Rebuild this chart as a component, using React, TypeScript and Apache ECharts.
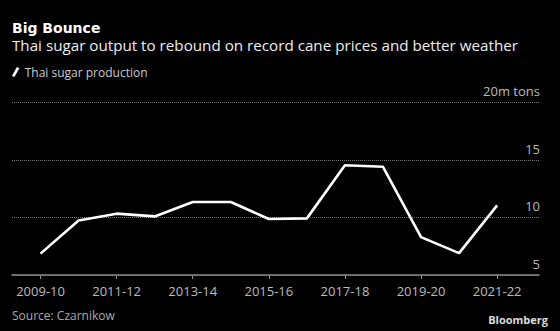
import React, { useEffect, useRef } from "react";
import * as echarts from "echarts";

const seasons = [
  "2009-10", "2010-11", "2011-12", "2012-13", "2013-14", "2014-15", "2015-16",
  "2016-17", "2017-18", "2018-19", "2019-20", "2020-21", "2021-22",
];
const production = [6.86, 9.75, 10.34, 10.1, 11.36, 11.36, 9.87, 9.93, 14.56, 14.42, 8.3, 6.9, 11.06];
const labelledTicks = [0, 2, 4, 6, 8, 10, 12];
const yTicks = [5, 10, 15, 20];

const FONT = "'Open Sans', 'DejaVu Sans', sans-serif";

export default function App() {
  const ref = useRef<HTMLDivElement>(null);
  useEffect(() => {
    if (!ref.current) return;
    const chart = echarts.init(ref.current, undefined, { renderer: "svg" });
    chart.setOption({
      animation: false,
      backgroundColor: "#000",
      title: [
        { text: "Thai sugar output to rebound on record cane prices and better weather", left: 12, top: 37, padding: 0,
          textStyle: { color: "#eee", fontSize: 15.2, fontWeight: "normal", fontFamily: FONT } },
        { text: "Source: Czarnikow", left: 12, top: 309, padding: 0,
          textStyle: { color: "#aaa", fontSize: 12, fontWeight: "normal", fontFamily: FONT } },
        { text: "Bloomberg", right: 12, top: 314, padding: 0,
          textStyle: { color: "#ddd", fontSize: 11, fontWeight: "bold", fontFamily: FONT } },
      ],
      graphic: [
        {
          type: "text", x: 12, y: 28,
          style: {
            text: "Big Bounce", fill: "#fff",
            font: "bold 14px 'DejaVu Sans', Verdana, sans-serif",
            verticalAlign: "middle", align: "left",
          },
        },
      ],
      legend: {
        left: 12, top: 66, padding: 0, itemWidth: 8, itemHeight: 10, itemGap: 10,
        data: [{ name: "Thai sugar production", icon: "path://M0,9 L5,0 L7.5,1.2 L2.5,10.2 Z" }],
        textStyle: { color: "#ccc", fontSize: 12, fontFamily: FONT },
      },
      grid: { left: 12, right: 21, top: 102.7, bottom: 56, containLabel: false },
      xAxis: {
        type: "value", min: -0.75, max: 13.1,
        axisLine: { show: true, lineStyle: { color: "#888", width: 1.5 } },
        axisTick: { show: true, length: 4, customValues: labelledTicks, lineStyle: { color: "#888" } },
        axisLabel: {
          customValues: labelledTicks, margin: 9, color: "#bbb", fontSize: 13, fontFamily: FONT,
          formatter: (v: number) => seasons[Math.round(v)] ?? "",
        },
        splitLine: { show: false },
      },
      yAxis: {
        type: "value", position: "right", min: 5, max: 20, interval: 5,
        axisLine: { show: false }, axisTick: { show: false },
        axisLabel: {
          inside: true, margin: -1, color: "#bbb", fontSize: 13, fontFamily: FONT,
          verticalAlign: "bottom", padding: [0, 0, 5, 0],
          formatter: (v: number) => (v === yTicks[yTicks.length - 1] ? v + "m tons" : String(v)),
        },
        splitLine: { show: true, lineStyle: { color: "#777", type: "dotted", width: 1 } },
      },
      series: [
        {
          name: "Thai sugar production", type: "line", symbol: "none",
          data: production.map((v, i) => [i, v]),
          lineStyle: { color: "#fff", width: 2.6 }, itemStyle: { color: "#fff" },
        },
      ],
    });
    return () => chart.dispose();
  }, []);
  return <div ref={ref} style={{ position: "fixed", left: 0, top: 0, width: 560, height: 331 }} />;
}
